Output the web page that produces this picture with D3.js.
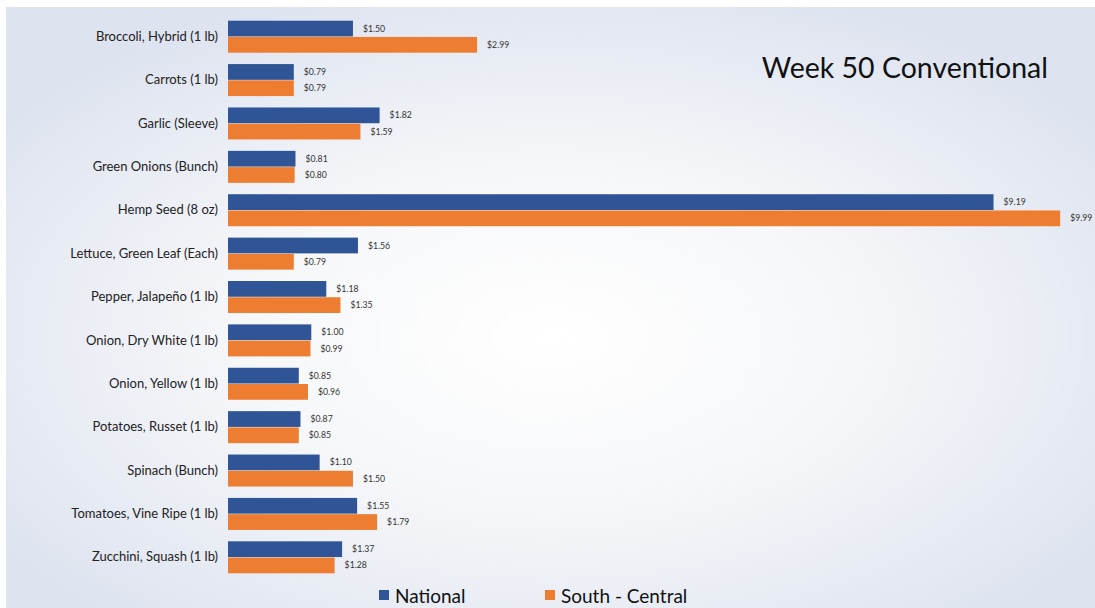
<!DOCTYPE html>
<html>
<head>
<meta charset="utf-8">
<script src="https://cdn.jsdelivr.net/npm/d3@7"></script>
<style>
  html, body { margin: 0; padding: 0; background: #fff; }
  svg { display: block; font-family: Lato, "Open Sans", sans-serif; }
</style>
</head>
<body>
<div id="chart"></div>
<script>
// chart data
const categories = [
    "Broccoli, Hybrid (1 lb)", "Carrots (1 lb)", "Garlic (Sleeve)", "Green Onions (Bunch)",
    "Hemp Seed (8 oz)", "Lettuce, Green Leaf (Each)", "Pepper, Jalapeño (1 lb)",
    "Onion, Dry White (1 lb)", "Onion, Yellow (1 lb)", "Potatoes, Russet (1 lb)",
    "Spinach (Bunch)", "Tomatoes, Vine Ripe (1 lb)", "Zucchini, Squash (1 lb)"
]
const series_names = ["National", "South - Central"]
const national = [1.50, 0.79, 1.82, 0.81, 9.19, 1.56, 1.18, 1.00, 0.85, 0.87, 1.10, 1.55, 1.37]
const south_central = [2.99, 0.79, 1.59, 0.80, 9.99, 0.79, 1.35, 0.99, 0.96, 0.85, 1.50, 1.79, 1.28]
const title = "Week 50 Conventional"

// layout consts
const width = 1095
const height = 608
const colors = ["#2f5597", "#ed7d31"]

const svg = d3.select("#chart").append("svg")
    .attr("width", width)
    .attr("height", height)

// background panel
const defs = svg.append("defs")
const grad = defs.append("radialGradient")
    .attr("id", "bg")
    .attr("cx", "0.5").attr("cy", "0.55").attr("r", "0.62")
grad.append("stop").attr("offset", "0%").attr("stop-color", "#ffffff")
grad.append("stop").attr("offset", "45%").attr("stop-color", "#f6f7f9")
grad.append("stop").attr("offset", "100%").attr("stop-color", "#dde3ef")

svg.append("rect")
    .attr("x", 6).attr("y", 7)
    .attr("width", width - 6).attr("height", height - 7)
    .attr("fill", "url(#bg)")

// scales
const x = d3.scaleLinear().domain([0, 10]).range([228, 1061])
const y = d3.scaleBand().domain(categories).range([15, 579]).paddingInner(0.24).paddingOuter(0.12)
const ySub = d3.scaleBand().domain(series_names).range([0, y.bandwidth()]).padding(0.03)

const data = categories.map((c, i) => ({ cat: c, values: [national[i], south_central[i]] }))

// category axis
const yAxis = d3.axisLeft(y).tickSize(0).tickPadding(10)
const ya = svg.append("g").attr("transform", "translate(" + x(0) + ",0)").call(yAxis)
ya.select(".domain").remove()
ya.selectAll("text")
    .attr("fill", "#222")
    .style("font-size", "13px")
    .style("font-family", "Lato, 'Open Sans', sans-serif")

// bars
const groups = svg.selectAll(".grp").data(data).enter().append("g")
    .attr("transform", d => "translate(0," + y(d.cat) + ")")

groups.selectAll("rect")
    .data(d => d.values.map((v, k) => ({ name: series_names[k], v: v, k: k })))
    .enter().append("rect")
    .attr("x", x(0))
    .attr("y", d => ySub(d.name))
    .attr("width", d => x(d.v) - x(0))
    .attr("height", ySub.bandwidth())
    .attr("fill", d => colors[d.k])

groups.selectAll(".val")
    .data(d => d.values.map((v, k) => ({ name: series_names[k], v: v, k: k })))
    .enter().append("text")
    .attr("x", d => x(d.v) + 10)
    .attr("y", d => ySub(d.name) + ySub.bandwidth() / 2)
    .attr("dy", "0.35em")
    .attr("fill", "#333")
    .style("font-size", "8.7px")
    .text(d => "$" + d3.format(".2f")(d.v))

// title
svg.append("text")
    .attr("x", 1048).attr("y", 78)
    .attr("text-anchor", "end")
    .attr("fill", "#111")
    .style("font-size", "28.5px")
    .text(title)

// legend
const leg = svg.append("g").attr("transform", "translate(379,590)")
const legX = [0, 166]
series_names.forEach((s, k) => {
    leg.append("rect").attr("x", legX[k]).attr("y", 0).attr("width", 10).attr("height", 10).attr("fill", colors[k])
    leg.append("text").attr("x", legX[k] + 16).attr("y", 12.5)
        .attr("fill", "#111").style("font-size", "19px").text(s)
})
</script>
</body>
</html>
